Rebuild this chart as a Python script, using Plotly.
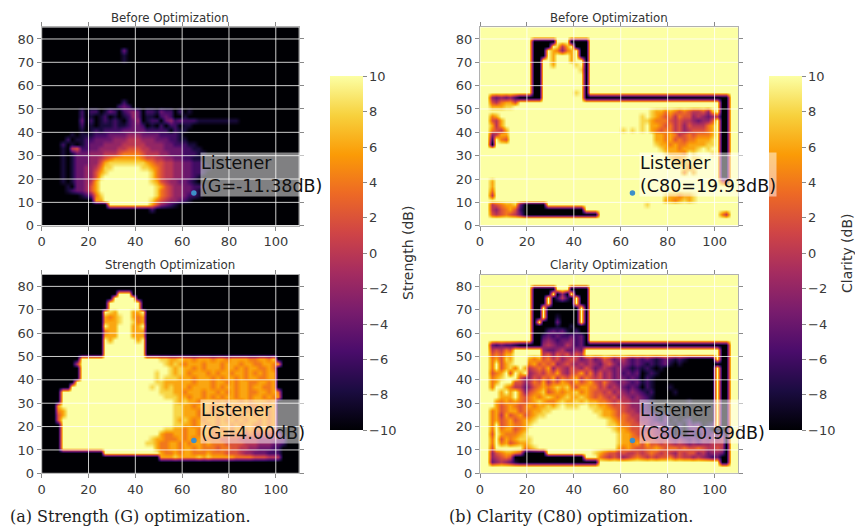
import plotly.graph_objects as go

# ---- data (2-unit cells, rows from y=85 down to y=1, columns x=1,3,...,109)
# '.'=-10 dB, digits n = -10+2n dB, '#'=+10 dB
H = "#"
strength_before = [
"","","","","",
"."*17+"3", "."*17+"1", "."*17+"1",
"","","","","","","","",
"."*17+"2",
"."*16+"232",
"........2.22.132.2343.221322.2.1",
"........2.1.12.1.1243.11.232..1",
"........3.2.12121.234.122.3423222111111111",
"........2.1.1112112332.1.2.22.11",
"........1.12122223333322222.211",
"......1.1112223333444333322221",
".....2.112233334445554443332211",
"....2.1.1233344445555544443322211",
"....1.5622334444556665544433332211",
"....1.13334445556777765554433322211",
"....1.1333445678888887665544332211",
"....1.13334468999999998766554433221",
"....1.133445799"+H*6+"998765544332211",
"....1.13344"+"68"+"9"+H*9+"976554433221",
"....1.1334"+"469"+H*10+"97655443321",
"....1.1334"+"58"+H*11+"9865443321",
".....1.334"+"68"+H*12+"98654433221",
".....12334"+"68"+H*12+"9765443321",
"........123"+"79"+H*11+"9765443221",
"..........."+"88"+H*10+"976544321",
"."*14+H*9+"864321",
"."*23+"2",
"","","",
]
strength_opt = [
"","","","",
"."*16+"###",
"."*15+"#####",
"."*14+"#######",
"."*14+"#######",
"."*13+"#98###88#",
"."*13+"8789##878",
"."*13+"8889##978",
"."*13+"#88###88#",
"."*13+"788###888",
"."*13+"888###888",
"."*13+"#8#####8#",
"."*13+H*9,
"."*13+H*9,
"."*13+H*9,
"."*8+H*17+"9988988788878878888778879",
"."*7+"5"+H*18+"989878887888788878877887"+"8",
"."*8+H*19+"98988787888788787887787",
"."*8+H*15+"#9##"+"98987888787887887878788",
"."*8+H*14+"##9#9"+"99888788878788787887788",
"."*7+H*15+"##998"+"88888788878878788778878",
"."*6+H*16+"#9#98"+"98887888878788788788778",
"."*4+H*19+"##999"+"88788878878787887788787",
"."*4+H*19+"###99"+"98878878787887887887878",
"."*4+H*24+"9898878887878878788878",
"...8"+H*24+"9988788878878788778788",
"...78"+H*23+"9988878878787887878878",
"...68"+H*23+"9988878787887878878878",
"...6"+H*24+"9898787887878787887878",
"."*4+H*24+"9988788787887878877878",
"."*4+H*22+"998878878878787887877877",
"."*4+H*21+"8778878878877877776766665"+"5",
"."*4+H*19+"98877787878777766665555444433",
"."*4+H*18+"998778878788787776666555444332",
"."*4+H*20+"877887887877767766554433322",
"."*13+H*12+"877878877787776665443332 22".replace(" ",""),
"."*25+"88898888989888887777666555",
"","",
]
clarity_before = [
"","","",
H*11+"....."+"###"+"....",
H*11+"...."+"#958#"+"...",
H*11+"..."+"#87478#"+"..",
H*11+"..."+"#8###8#"+"..",
H*11+".."+"##8###8##"+".",
H*11+".."+"##8####9#"+".",
H*11+".."+"########9"+".",
H*11+".."+H*9+".",
H*11+".."+H*9+".",
H*11+".."+H*9+".",
H*11+".."+H*9+".",
H*11+".."+"#######9#"+".",
"##"+"434342"+"....."+H*9+"."*31,
"##657886"+H*43+"..",
"##88899"+H*44+"..",
H*36+"98878767655648"+"#..",
"##78"+H*30+"9#"+"98767576645434"+"5..",
"##658"+H*29+"99"+"87776565543446"+"#..",
"##858"+H*29+"9#"+"88767564655578"+"#..",
"##7658"+H*24+"9#9#"+"9#"+"87677564566678"+"#..",
"##4588"+H*31+"8878756767778"+"#..",
"##2#76"+H*31+"8878676778889"+"#..",
"##."+H*34+"9887877888899"+"#..",
H*38+"988878889#9#"+"#..",
H*39+"98887#9###9"+"#..",
H*40+"9889#99###"+"#..",
H*41+"9889#####"+"#..",
H*43+"979####"+"#..",
H*43+"7#8####"+"#..",
H*51+"..",
"##8"+H*48+"65",
"##8",
"##7",
"##5"+H*36+"9887889",
H*39+"8878989",
"##567889"+"3"+"....."+H*21+"9",
"##546786"+"2"+"."*13,
"##6567653"+"."*16+H*26+"75",
"","",
]
clarity_opt = [
"","","",
H*11+"....."+"###"+"....",
H*11+"...."+"#.4.#"+"...",
H*11+"..."+"#.252.#"+"..",
H*11+"..."+"#.....#"+"..",
H*11+".."+"#.......#"+".",
H*11+".."+"#.......#"+".",
H*11+".."+"#..1....#"+".",
H*11+".#...3....#.",
H*11+".."+"...1..1.."+".",
H*11+".."+".23231.2."+".",
H*11+".."+"232322323"+".",
H*11+".."+"343233423"+".",
"##"+"323221"+"....."+"454335423"+"."*31,
"##"+"56576"+H*6+"433453343"+H*29+"..",
"##"+"67688"+H*6+"564656465"+H*29+"..",
"##"+"78698"+"###"+"8786756456"+"5345346534"+"5323232123"+"2121......"+"#..",
"##"+"7#689"+"###"+"7867674565"+"4545435643"+"4323212123"+"1.1......."+"...",
"##"+"7#689"+"7#8"+"5676846546"+"5465345434"+"3212121.1."+".........."+"#..",
"##"+"678#6"+"#8#"+"4565768546"+"6857464534"+"2323.121.."+".........."+"#..",
"##"+"789##"+"#64"+"4657685767"+"8576564534"+"3232.21..."+".........."+"#..",
"##"+"78###"+"664"+"5768576876"+"8678657543"+"4323121..."+".........."+"#..",
"##"+"7##87"+"553"+"4678789897"+"6887756454"+"3232.21..."+"1........."+"#..",
"##"+"##8#8"+"#74"+"6789678788"+"9787665645"+"4343212..."+".1........"+"#..",
"##"+"##888"+"#76"+"7878987898"+"8987676564"+"5434321..."+".........."+"#..",
"##"+"#8787"+"876"+"7898778988"+"9898877656"+"5544321..."+"....1....."+"#..",
"##"+"#8678"+"767"+"8788989#99"+"9##9988766"+"6544321..."+".........."+"#..",
"##"+"78678"+"867"+"78899#####"+"####998876"+"6554322..."+".........."+"#..",
"##"+"78586"+"786"+"7899######"+"#####98876"+"7655433212"+"1........."+"#..",
"##"+"78678"+"678"+"89########"+"#######987"+"7665443213"+".1.12....."+"#..",
"##"+"7#678"+"778"+"9#########"+"#######998"+"7766543432"+"1.2.323.12"+"#..",
"##"+"7#788"+"678"+"##########"+"########98"+"8766545434"+"3.2.23232."+"...",
"##"+"6#877"+"789"+"##########"+"#########9"+"8876565443"+"3.2.32.323"+"34.",
"##"+"7#687"+"899"+"9#########"+"#########9"+"8877656555"+"4343232434"+"45.",
"##"+"7#786"+"788"+"9#########"+"#########9"+"8878686656"+"5454343445"+"55.",
"##"+"6####"+"##7"+"89########"+"#########8"+"7876677876"+"7767667655"+"65.",
"##"+"46788"+"76"+"....."+H*10+"98766565565676565465664534"+"43.",
"##"+"45676"+"."*15+"###"+"7656545676565667565545432"+"3..",
"##"+"34543"+"1"+"."*17+H*26+"..",
"","",
]

listener_x = [65]
listener_y = [14]
listener_labels = ["Listener<br>(G=-11.38dB)", "Listener<br>(G=4.00dB)",
                   "Listener<br>(C80=19.93dB)", "Listener<br>(C80=0.99dB)"]
panel_titles = ["Before Optimization", "Strength Optimization",
                "Before Optimization", "Clarity Optimization"]
captions = ["(a) Strength (G) optimization.", "(b) Clarity (C80) optimization."]
cbar_titles = ["Strength (dB)", "Clarity (dB)"]
x_ticks = [0, 20, 40, 60, 80, 100]
y_ticks = [0, 10, 20, 30, 40, 50, 60, 70, 80]
cbar_ticks = list(range(-10, 11, 2))

# ---- decoding
NCOL, NROW = 55, 43
xc = list(range(1, 110, 2))
yc = list(range(1, 86, 2))
def decode(rows, bg):
    out = []
    for r in rows:
        r = r.ljust(NCOL, bg)[:NCOL]
        out.append([-10 if c == "." else 10 if c == "#" else -10 + 2 * int(c) for c in r])
    out = out[:NROW] + [[-10 if bg == "." else 10] * NCOL] * (NROW - len(out))
    return out[::-1]

W, H_PX = 855, 526
def xdom(a, b): return [a / W, b / W]
def ydom(t, b): return [1 - b / H_PX, 1 - t / H_PX]

panels = [
    (strength_before, ".", xdom(41.7, 299.2), ydom(27.3, 225.7), "", 330),
    (strength_opt,    ".", xdom(41.7, 299.2), ydom(274.7, 473.3), "2", None),
    (clarity_before,  "#", xdom(480, 738), ydom(27.3, 225.7), "3", 769),
    (clarity_opt,     "#", xdom(480, 738), ydom(274.7, 473.3), "4", None),
]

fig = go.Figure()
layout = dict(
    width=W, height=H_PX, margin=dict(l=0, r=0, t=0, b=0, autoexpand=False),
    paper_bgcolor="white", plot_bgcolor="white", showlegend=False,
    font=dict(family="DejaVu Sans", color="#3a3a3a", size=13),
    annotations=[], shapes=[],
)
TICK = "#8a8a8a"
for i, (rows, bg, dx, dy, sfx, cbx) in enumerate(panels):
    tr = dict(x=xc, y=yc, z=decode(rows, bg), zmin=-10, zmax=10, colorscale="Inferno",
              zsmooth="best", xaxis="x" + sfx, yaxis="y" + sfx, showscale=cbx is not None,
              hoverinfo="skip")
    if cbx is not None:
        tr["colorbar"] = dict(
            x=cbx / W, xanchor="left", y=1 - 253.3 / H_PX, yanchor="middle",
            lenmode="pixels", len=353.5, thicknessmode="pixels", thickness=33,
            outlinewidth=0, ticks="outside", ticklen=4, tickcolor=TICK, tickwidth=1,
            tickvals=cbar_ticks, tickfont=dict(size=13, color="#3a3a3a"), xpad=0, ypad=0,
        )
    fig.add_trace(go.Heatmap(**tr))
    fig.add_trace(go.Scatter(x=listener_x, y=listener_y, mode="markers",
                             marker=dict(size=5.5, color="#3d8fc9"),
                             xaxis="x" + sfx, yaxis="y" + sfx, hoverinfo="skip"))
    common = dict(showgrid=False, zeroline=False, showline=True, linecolor="#b0b0b0",
                  linewidth=1, mirror="ticks", ticks="outside", ticklen=4, tickcolor=TICK,
                  tickwidth=1, tickfont=dict(size=13, color="#3a3a3a"))
    layout["xaxis" + sfx] = dict(domain=dx, range=[0, 110], tickvals=x_ticks,
                                 anchor="y" + sfx, **common)
    layout["yaxis" + sfx] = dict(domain=dy, range=[0, 85], tickvals=y_ticks,
                                 anchor="x" + sfx, **common)
    for t in x_ticks:
        layout["shapes"].append(dict(type="line", xref="x" + sfx, yref=f"y{sfx} domain",
                                     x0=t, x1=t, y0=0, y1=1, layer="above",
                                     line=dict(color="rgba(255,255,255,0.8)", width=1)))
    for t in y_ticks:
        layout["shapes"].append(dict(type="line", xref=f"x{sfx} domain", yref="y" + sfx,
                                     x0=0, x1=1, y0=t, y1=t, layer="above",
                                     line=dict(color="rgba(255,255,255,0.8)", width=1)))
    layout["annotations"].append(dict(
        x=sum(dx) / 2, y=dy[1], xref="paper", yref="paper", xanchor="center",
        yanchor="bottom", yshift=0.5,
        text=panel_titles[i], showarrow=False, font=dict(size=11.8, color="#333")))
    layout["annotations"].append(dict(
        x=67.6, y=22, xref="x" + sfx, yref="y" + sfx, xanchor="left", yanchor="middle",
        text=listener_labels[i], showarrow=False, align="left", borderpad=0,
        bgcolor="rgba(255,255,255,0.5)", font=dict(size=17.5, color="#111")))

for xp, txt in zip([408, 847], cbar_titles):
    layout["annotations"].append(dict(
        x=xp / W, y=1 - 253 / H_PX, xref="paper", yref="paper", textangle=-90,
        xanchor="center", yanchor="middle",
        text=txt, showarrow=False, font=dict(size=14, color="#333")))
for xp, txt in zip([8, 447], captions):
    layout["annotations"].append(dict(
        x=xp / W, y=1 - 516 / H_PX, xref="paper", yref="paper", xanchor="left",
        yanchor="middle", text=txt, showarrow=False,
        font=dict(family="DejaVu Serif", size=16, color="#222")))

fig.update_layout(**layout)
fig.write_html("out.html", config={"displayModeBar": False},
               post_script="document.documentElement.style.overflow='hidden';document.body.style.margin='0';")
